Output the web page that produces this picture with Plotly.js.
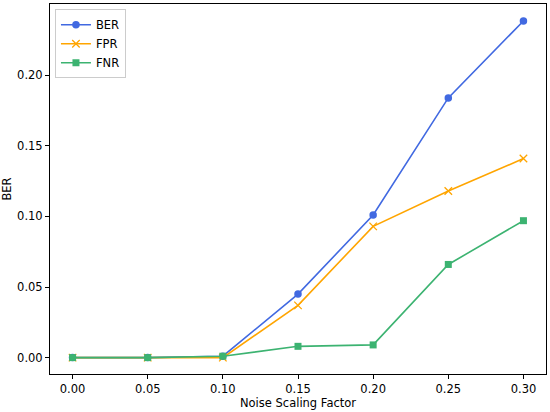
<!DOCTYPE html>
<html>
<head>
<meta charset="utf-8">
<script src="https://cdn.plot.ly/plotly-3.0.1.min.js"></script>
<style>html,body{margin:0;padding:0;background:#fff;}#chart{width:550px;height:412px;}</style>
</head>
<body>
<div id="chart"></div>
<script>
const noiseFactors = [0.00, 0.05, 0.10, 0.15, 0.20, 0.25, 0.30];
const berValues = [0.000, 0.000, 0.001, 0.045, 0.101, 0.184, 0.2385];
const fprValues = [0.000, 0.000, 0.000, 0.037, 0.093, 0.118, 0.141];
const fnrValues = [0.000, 0.000, 0.001, 0.008, 0.009, 0.066, 0.097];
const xTicks = [0.00, 0.05, 0.10, 0.15, 0.20, 0.25, 0.30];
const yTicks = [0.00, 0.05, 0.10, 0.15, 0.20];

const font = {family: 'DejaVu Sans, sans-serif', size: 11.5, color: '#000'};

const traces = [
  {x: noiseFactors, y: berValues, name: 'BER', mode: 'lines+markers',
   line: {color: '#4169E1', width: 1.6}, marker: {symbol: 'circle', size: 7.5, color: '#4169E1'}},
  {x: noiseFactors, y: fprValues, name: 'FPR', mode: 'lines+markers',
   line: {color: '#FFA500', width: 1.6}, marker: {symbol: 'x-thin', size: 7.5, color: '#FFA500', line: {color: '#FFA500', width: 1.3}}},
  {x: noiseFactors, y: fnrValues, name: 'FNR', mode: 'lines+markers',
   line: {color: '#3CB371', width: 1.6}, marker: {symbol: 'square', size: 7, color: '#3CB371'}}
];

const axisCommon = {
  showgrid: false, zeroline: false, showline: true, mirror: true,
  linecolor: '#000', linewidth: 1, ticks: 'outside', ticklen: 4, tickwidth: 1,
  tickcolor: '#000', tickfont: font
};

const layout = {
  width: 550, height: 412,
  margin: {l: 50, r: 4, t: 4, b: 38},
  paper_bgcolor: '#fff', plot_bgcolor: '#fff',
  font: font,
  showlegend: true,
  legend: {x: 0.01, y: 0.986, xanchor: 'left', yanchor: 'top',
           bgcolor: 'rgba(255,255,255,0.8)', bordercolor: '#ccc', borderwidth: 1,
           font: font, itemwidth: 30, tracegroupgap: 0},
  xaxis: Object.assign({}, axisCommon, {
    range: [-0.015, 0.315], tickvals: xTicks,
    ticktext: xTicks.map(v => v.toFixed(2)),
    title: {text: 'Noise Scaling Factor', font: font, standoff: 4}
  }),
  yaxis: Object.assign({}, axisCommon, {
    range: [-0.0116, 0.2505], tickvals: yTicks,
    ticktext: yTicks.map(v => v.toFixed(2)),
    title: {text: 'BER', font: font, standoff: 9}
  })
};

Plotly.newPlot('chart', traces, layout, {displayModeBar: false, staticPlot: true});
</script>
</body>
</html>
